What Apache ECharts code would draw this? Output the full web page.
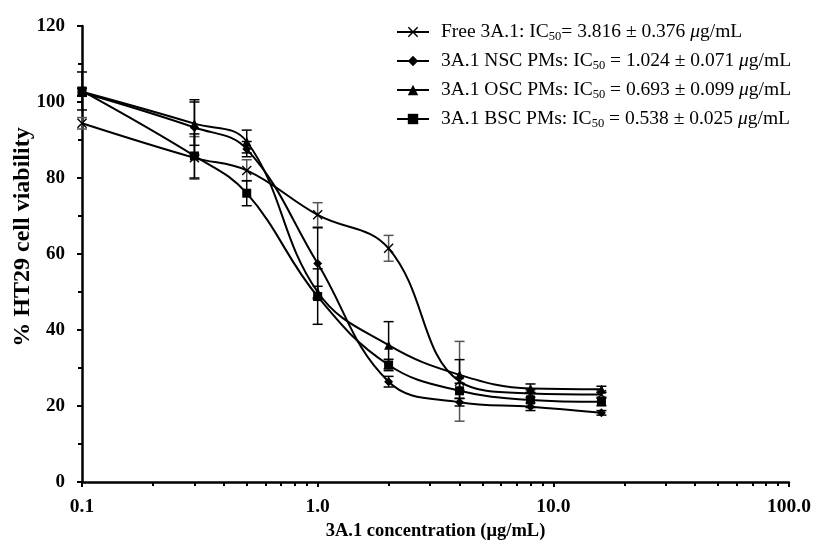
<!DOCTYPE html>
<html>
<head>
<meta charset="utf-8">
<script src="https://cdn.jsdelivr.net/npm/echarts@6/dist/echarts.min.js"></script>
<style>html,body{margin:0;padding:0;background:#fff;}#c{width:814px;height:545px;}</style>
</head>
<body>
<div id="c"></div>
<script>
// ---- data ----
var conc = [0.1, 0.3, 0.5, 1, 2, 4, 8, 16];
var seriesNames = ['Free 3A.1', '3A.1 NSC PMs', '3A.1 OSC PMs', '3A.1 BSC PMs'];
var icMean = ['3.816', '1.024', '0.693', '0.538'];
var icSd = ['0.376', '0.071', '0.099', '0.025'];
var freeVals = [94.4, 85.3, 82.0, 70.3, 61.5, 26.5, 23.3, 23.0];
var freeErr  = [1.5, 5.6, 2.8, 3.2, 3.4, 10.5, 1.0, 0.6];
var nscVals  = [102.5, 93.3, 87.6, 57.5, 26.4, 21.0, 19.8, 18.2];
var nscErr   = [1.0, 7.3, 2.0, 9.4, 1.4, 1.0, 1.0, 0.6];
var oscVals  = [102.7, 94.3, 89.6, 50.0, 36.0, 28.2, 24.6, 24.4];
var oscErr   = [1.0, 5.7, 3.0, 1.5, 6.2, 4.0, 1.2, 0.8];
var bscVals  = [102.9, 85.8, 76.0, 48.8, 30.8, 24.0, 21.6, 21.1];
var bscErr   = [5.0, 5.8, 3.3, 7.3, 1.5, 2.0, 2.0, 1.0];
var xMajorTicks = [0.1, 1, 10, 100];
var xMinorTicks = [0.2,0.3,0.4,0.5,0.6,0.7,0.8,0.9,2,3,4,5,6,7,8,9,20,30,40,50,60,70,80,90];

var FONT = '"Liberation Serif", "Times New Roman", serif';
var crossPath = 'path://M0,1 L1,0 L5,4 L9,0 L10,1 L6,5 L10,9 L9,10 L5,6 L1,10 L0,9 L4,5 Z';
var symbols = [crossPath, 'diamond', 'triangle', 'rect'];
var symSizes = [10, 9, 9, 9];
var allVals = [freeVals, nscVals, oscVals, bscVals];
var allErr = [freeErr, nscErr, oscErr, bscErr];
var errColors = ['#555555', '#000000', '#000000', '#000000'];

function pairs(v) { return conc.map(function (c, i) { return [c, v[i]]; }); }
function errData(v, e) { return conc.map(function (c, i) { return [c, v[i] - e[i], v[i] + e[i]]; }); }

var series = [];
allVals.forEach(function (v, k) {
  series.push({
    name: seriesNames[k],
    type: 'line',
    data: pairs(v),
    smooth: 0.4,
    symbol: symbols[k],
    symbolSize: symSizes[k],
    showAllSymbol: true,
    lineStyle: { color: '#000', width: 2 },
    itemStyle: { color: '#000' },
    z: 3
  });
});
allVals.forEach(function (v, k) {
  series.push({
    type: 'custom',
    data: errData(v, allErr[k]),
    encode: { x: 0, y: [1, 2] },
    silent: true,
    z: 2,
    renderItem: function (params, api) {
      var x = api.value(0);
      var lo = api.coord([x, api.value(1)]);
      var hi = api.coord([x, api.value(2)]);
      var w = 5;
      var st = { stroke: errColors[k], lineWidth: 1.5 };
      return {
        type: 'group',
        children: [
          { type: 'line', shape: { x1: lo[0], y1: lo[1], x2: hi[0], y2: hi[1] }, style: st },
          { type: 'line', shape: { x1: lo[0] - w, y1: lo[1], x2: lo[0] + w, y2: lo[1] }, style: st },
          { type: 'line', shape: { x1: hi[0] - w, y1: hi[1], x2: hi[0] + w, y2: hi[1] }, style: st }
        ]
      };
    }
  });
});

var chart = echarts.init(document.getElementById('c'), null, { renderer: 'canvas' });
chart.setOption({
  animation: false,
  backgroundColor: '#fff',
  grid: { left: 82, top: 26, right: 25, bottom: 63, containLabel: false, outerBoundsMode: 'none' },
  legend: {
    orient: 'vertical',
    left: 396,
    top: 22,
    padding: 0,
    itemWidth: 32,
    itemHeight: 13,
    itemGap: 7.5,
    data: seriesNames,
    formatter: function (name) {
      var i = seriesNames.indexOf(name);
      var eq = i === 0 ? '= ' : ' = ';
      return name + ': IC{sub|50}' + eq + icMean[i] + ' \u00B1 ' + icSd[i] + ' {it|\u03BC}g/mL';
    },
    textStyle: {
      fontFamily: FONT, fontSize: 19.5, color: '#000', padding: [0, 0, 0, 7],
      rich: {
        sub: { fontFamily: FONT, fontSize: 12.5, color: '#000', padding: [10, 0, 0, 0] },
        it: { fontFamily: FONT, fontSize: 19.5, fontStyle: 'italic', color: '#000' }
      }
    }
  },
  xAxis: [{
    type: 'log', logBase: 10, min: 0.1, max: 100,
    name: '3A.1 concentration (\u03BCg/mL)',
    nameLocation: 'middle', nameGap: 38,
    nameTextStyle: { fontFamily: FONT, fontSize: 18.5, fontWeight: 'bold', color: '#000' },
    axisLine: { lineStyle: { color: '#000', width: 2.5 } },
    axisTick: { show: true, inside: false, length: 5, lineStyle: { color: '#000', width: 2 }, customValues: xMajorTicks },
    axisLabel: {
      fontFamily: FONT, fontSize: 19.5, fontWeight: 'bold', color: '#000', margin: 15,
      customValues: xMajorTicks,
      formatter: function (v) { return Number(v).toFixed(1); }
    },
    splitLine: { show: false }
  }, {
    type: 'log', logBase: 10, min: 0.1, max: 100, position: 'bottom',
    axisLine: { show: false },
    axisTick: { show: true, inside: false, length: 4, lineStyle: { color: '#000', width: 2 }, customValues: xMinorTicks },
    axisLabel: { show: false },
    splitLine: { show: false }
  }],
  yAxis: {
    type: 'value', min: 0, max: 120, interval: 20,
    name: '% HT29 cell viability',
    nameLocation: 'middle', nameGap: 47, nameRotate: 90, nameMoveOverlap: false,
    nameTextStyle: { fontFamily: FONT, fontSize: 24, fontWeight: 'bold', color: '#000', padding: [0, 0, 0, 34] },
    axisLine: { show: true, lineStyle: { color: '#000', width: 2.5 } },
    axisTick: { show: true, inside: false, length: 5, lineStyle: { color: '#000', width: 2 } },
    minorTick: { show: true, splitNumber: 2, length: 4, lineStyle: { color: '#000', width: 2 } },
    axisLabel: { fontFamily: FONT, fontSize: 19, fontWeight: 'bold', color: '#000', margin: 17 },
    splitLine: { show: false }
  },
  series: series
});
</script>
</body>
</html>
